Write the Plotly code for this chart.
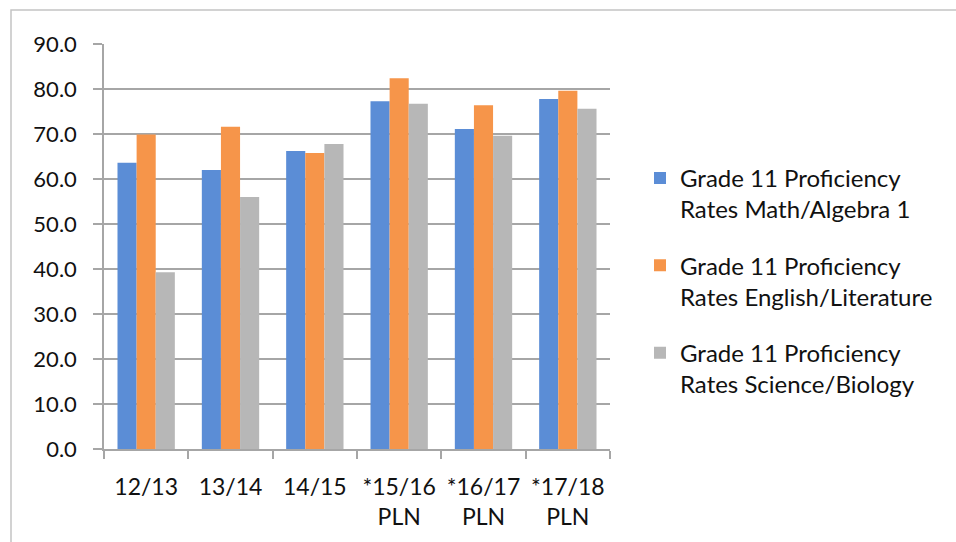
import plotly.graph_objects as go

categories = ["12/13", "13/14", "14/15", "*15/16<br>PLN", "*16/17<br>PLN", "*17/18<br>PLN"]
math_vals = [63.6, 62.0, 66.2, 77.3, 71.1, 77.8]
english_vals = [69.9, 71.6, 65.8, 82.4, 76.4, 79.6]
science_vals = [39.3, 56.0, 67.8, 76.7, 69.6, 75.6]
series_names = [
    "Grade 11 Proficiency<br>Rates Math/Algebra 1",
    "Grade 11 Proficiency<br>Rates English/Literature",
    "Grade 11 Proficiency<br>Rates Science/Biology",
]
colors = ["#5B8DD6", "#F6954A", "#B7B7B7"]
y_ticks = [0, 10, 20, 30, 40, 50, 60, 70, 80, 90]

W, H = 956, 542
L, R, T, B = 104, 346, 44, 93
pw, ph = W - L - R, H - T - B

fig = go.Figure()
for name, vals, col, g in zip(series_names, [math_vals, english_vals, science_vals], colors, ["a", "b", "c"]):
    fig.add_trace(go.Bar(x=categories, y=vals, name=name, marker_color=col,
                         marker_line_width=0, legendgroup=g))

fam = "Lato, 'Noto Sans', sans-serif"
font_big = dict(family=fam, size=24, color="#111111")
font_x = dict(family=fam, size=23, color="#111111")
font_y = dict(family=fam, size=22, color="#111111")

fig.update_layout(
    width=W, height=H,
    margin=dict(l=L, r=R, t=T, b=B, autoexpand=False),
    paper_bgcolor="white", plot_bgcolor="white",
    font=font_big,
    barmode="group", bargap=0.32, bargroupgap=0,
    legend=dict(x=(640 - L) / pw, y=0.414, xanchor="left", yanchor="middle",
                font=font_big, tracegroupgap=22, itemwidth=30, valign="top",
                bgcolor="rgba(0,0,0,0)"),
    showlegend=True,
    xaxis=dict(showgrid=False, showline=True, linecolor="#A6A6A6", linewidth=1.5,
               ticks="outside", tickson="boundaries", ticklen=8, tickcolor="#A6A6A6",
               tickwidth=1.5, tickfont=font_x, ticklabelstandoff=17,
               tickangle=0, automargin=False),
    yaxis=dict(range=[0, 90], tickvals=y_ticks, ticktext=[f"{v:.1f}" for v in y_ticks],
               showgrid=True, gridcolor="#A6A6A6", gridwidth=1.5,
               showline=True, linecolor="#A6A6A6", linewidth=1.5,
               ticks="outside", ticklen=9, tickcolor="#A6A6A6", tickwidth=1.5,
               tickfont=font_y, zeroline=False, ticklabelstandoff=12, automargin=False),
    shapes=[dict(type="rect", xref="paper", yref="paper",
                 x0=(11 - L) / pw, x1=(W + 20 - L) / pw,
                 y0=(H - B - (H + 20)) / ph, y1=(H - B - 10) / ph,
                 line=dict(color="#C4C4C4", width=1.5), fillcolor="rgba(0,0,0,0)",
                 layer="below")],
)

fig.write_html("out.html")
